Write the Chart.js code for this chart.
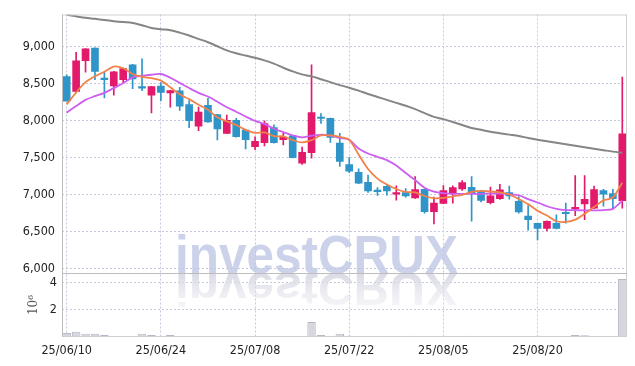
<!DOCTYPE html>
<html><head><meta charset="utf-8">
<style>html,body{margin:0;padding:0;background:#fff;}canvas{display:block}</style>
<script src="https://cdn.jsdelivr.net/npm/chart.js@4.4.1/dist/chart.umd.min.js"></script>
</head><body>
<canvas id="c" width="635" height="366"></canvas>
<script>
const dates = ['25/06/10','25/06/11','25/06/12','25/06/13','25/06/16','25/06/17','25/06/18','25/06/19','25/06/20','25/06/23',
'25/06/24','25/06/25','25/06/26','25/06/27','25/06/30','25/07/01','25/07/02','25/07/03','25/07/04','25/07/07',
'25/07/08','25/07/09','25/07/10','25/07/11','25/07/14','25/07/15','25/07/16','25/07/17','25/07/18','25/07/21',
'25/07/22','25/07/23','25/07/24','25/07/25','25/07/28','25/07/29','25/07/30','25/07/31','25/08/01','25/08/04',
'25/08/05','25/08/06','25/08/07','25/08/08','25/08/11','25/08/12','25/08/13','25/08/14','25/08/18','25/08/19',
'25/08/20','25/08/21','25/08/22','25/08/25','25/08/26','25/08/27','25/08/28','25/08/29','25/09/01','25/09/02'];
const tickLabels = ['25/06/10','25/06/24','25/07/08','25/07/22','25/08/05','25/08/20'];
const priceTicks = [6000,6500,7000,7500,8000,8500,9000];
const volTicks = [2e6,4e6];

const openP  = [8594,8393,8812,8982,8565,8469,8554,8754,8447,8344,8468,8375,8402,8215,7923,8205,8080,7826,8004,7871,
                7647,7701,7906,7741,7795,7424,7567,8035,8031,7696,7406,7299,7165,7058,7112,7005,7027,6955,7071,6768,
                6880,7013,7076,7098,7035,6889,6943,7027,6907,6708,6611,6540,6611,6748,6805,6872,6814,7053,7013,6916];
const highP  = [8620,8924,8975,8985,8652,8665,8710,8760,8835,8465,8513,8410,8451,8269,8181,8300,8085,8076,8031,7875,
                7781,7996,7942,7826,7800,7643,8754,8094,8035,7826,7500,7348,7263,7094,7130,7116,7080,7241,7075,6964,
                7121,7116,7188,7241,7040,7102,7137,7115,6973,6850,6615,6645,6726,6885,7256,7256,7115,7071,7071,8587];
const lowP   = [8263,8385,8656,8554,8308,8344,8509,8433,8406,8103,8265,8183,8138,7905,7862,7975,7737,7826,7775,7616,
                7607,7656,7695,7670,7495,7406,7491,7960,7705,7380,7295,7145,7027,6987,6991,6924,6964,6946,6746,6603,
                6875,6884,7054,6638,6900,6872,6935,6938,6748,6518,6386,6509,6535,6611,6713,6660,6810,6841,6806,6814];
const closeP = [8263,8808,8969,8665,8555,8661,8705,8562,8440,8460,8380,8406,8196,8000,8114,7982,7888,8004,7781,7741,
                7719,7960,7701,7777,7500,7571,8107,8028,7772,7446,7317,7152,7049,7040,7049,7014,6982,7067,6768,6884,
                7054,7094,7161,7013,6920,6982,7062,6982,6766,6660,6540,6638,6540,6740,6815,6934,7066,7004,6943,7822];
const volume = [0.29e6,0.38e6,0.24e6,0.24e6,0.14e6,0.08e6,0.07e6,0.06e6,0.24e6,0.14e6,0.08e6,0.14e6,0.07e6,0.06e6,0.06e6,0.06e6,0.05e6,0.05e6,0.05e6,0.05e6,
                0.05e6,0.07e6,0.06e6,0.05e6,0.08e6,0.08e6,1.1e6,0.14e6,0.1e6,0.24e6,0.1e6,0.07e6,0.06e6,0.05e6,0.05e6,0.05e6,0.08e6,0.1e6,0.08e6,0.07e6,
                0.05e6,0.05e6,0.06e6,0.1e6,0.08e6,0.05e6,0.05e6,0.05e6,0.06e6,0.08e6,0.1e6,0.06e6,0.05e6,0.06e6,0.14e6,0.12e6,0.06e6,0.05e6,0.05e6,4.24e6];
const ma5  = [8219,8380,8520,8600,8660,8730,8708,8630,8590,8575,8540,8450,8355,8290,8215,8145,8045,7990,7940,7875,
              7835,7840,7790,7785,7735,7705,7735,7800,7800,7780,7740,7540,7345,7215,7135,7075,7035,7030,6980,6950,
              6955,6975,6995,7035,7050,7040,7030,7000,6940,6870,6780,6715,6638,6630,6660,6740,6830,6920,6960,7160];
const ma20 = [8107,8196,8280,8330,8375,8440,8505,8585,8605,8620,8630,8580,8510,8440,8375,8325,8255,8180,8120,8055,
              7996,7955,7890,7845,7800,7772,7795,7808,7797,7765,7740,7622,7555,7510,7466,7392,7290,7196,7092,7040,
              7018,7009,7009,7009,7009,7013,7013,7005,6990,6938,6892,6841,6806,6790,6788,6785,6786,6790,6806,6916];
const ma60 = [9431,9410,9390,9376,9360,9345,9332,9320,9290,9252,9235,9222,9190,9150,9105,9060,9005,8950,8910,8880,
              8850,8815,8770,8715,8665,8625,8598,8560,8520,8480,8445,8405,8360,8320,8280,8240,8200,8155,8100,8050,
              8020,7980,7940,7900,7875,7850,7830,7810,7790,7765,7740,7720,7700,7680,7660,7640,7620,7600,7580,7565];
const watermarkText = 'investCRUX';

const upColor = '#e3196b', downColor = '#2f95c8';
const candleColors = closeP.map((c,i)=> c >= openP[i] ? upColor : downColor);
const tickFont = {family:"'DejaVu Sans Condensed','DejaVu Sans',sans-serif", size:12.5};
const gridColor = '#c5c9dc';

const framePlugin = {
  id:'frame',
  afterDatasetsDraw(chart){
    const c = chart.ctx, a = chart.chartArea, y = chart.scales.y;
    c.save();
    c.lineWidth = 1;
    c.strokeStyle = '#cfcfcf';
    c.beginPath();
    c.moveTo(a.left, a.top+0.5); c.lineTo(a.right, a.top+0.5);
    c.moveTo(a.right-0.5, a.top); c.lineTo(a.right-0.5, a.bottom);
    c.moveTo(a.left, a.bottom-0.5); c.lineTo(a.right, a.bottom-0.5);
    c.stroke();
    c.strokeStyle = '#bdbdbd';
    c.beginPath();
    c.moveTo(a.left+0.5, a.top); c.lineTo(a.left+0.5, a.bottom);
    c.moveTo(a.left, Math.round(y.bottom)+0.5); c.lineTo(a.right, Math.round(y.bottom)+0.5);
    c.stroke();
    c.restore();
  }
};
const wmPlugin = {
  id:'wm',
  beforeDatasetsDraw(chart){
    const c = chart.ctx, y = chart.scales.y;
    const base = y.bottom;
    c.save();
    c.font = 'bold 54px "Liberation Sans", Arial, sans-serif';
    const w = c.measureText(watermarkText).width;
    const sx = 283 / w;
    c.translate(316.5, base);
    c.scale(sx, 1);
    c.textAlign = 'center';
    c.textBaseline = 'alphabetic';
    c.fillStyle = 'rgba(190,199,228,0.8)';
    c.fillText(watermarkText, 0, 0);
    c.scale(1, -0.85);
    const g = c.createLinearGradient(0, 0, 0, -42);
    g.addColorStop(0, 'rgba(214,214,226,0.9)');
    g.addColorStop(1, 'rgba(230,230,238,0.35)');
    c.fillStyle = g;
    c.fillText(watermarkText, 0, 0);
    c.restore();
  }
};

new Chart(document.getElementById('c'), {
  data: {
    labels: dates,
    datasets: [
      {type:'line', label:'MA5', data: ma5, yAxisID:'y', borderColor:'#f0834a', borderWidth:1.8, pointRadius:0, tension:0.3, order:0},
      {type:'line', label:'MA20', data: ma20, yAxisID:'y', borderColor:'#cc5ef2', borderWidth:1.8, pointRadius:0, tension:0.3, order:0},
      {type:'line', label:'MA60', data: ma60, yAxisID:'y', borderColor:'#858585', borderWidth:2, pointRadius:0, tension:0.3, order:0},
      {type:'bar', label:'body', data: openP.map((o,i)=>[o, closeP[i]]), yAxisID:'y', backgroundColor:candleColors, barThickness:7, grouped:false, minBarLength:1.5, order:1},
      {type:'bar', label:'wick', data: lowP.map((l,i)=>[l, highP[i]]), yAxisID:'y', backgroundColor:candleColors, barThickness:1, grouped:false, order:2},
      {type:'bar', label:'volume', data: volume, yAxisID:'vol', backgroundColor:'#d6d6de', borderColor:'#b9b9c6', borderWidth:1, barPercentage:0.9, categoryPercentage:1, grouped:false, order:3}
    ]
  },
  options: {
    responsive:false, animation:false, events:[], devicePixelRatio:1,
    layout:{padding:{top:9, right:8, left:0, bottom:0}},
    plugins:{legend:{display:false}, tooltip:{enabled:false}},
    scales:{
      x:{type:'category', offset:true,
        grid:{offset:false, drawTicks:false, color:(ctx)=> tickLabels.includes(dates[ctx.index]) ? gridColor : 'rgba(0,0,0,0)'},
        border:{display:false, dash:[2,2]},
        ticks:{autoSkip:false, maxRotation:0, minRotation:0, padding:6, color:'#222', font:tickFont,
          callback:(v,i)=> tickLabels.includes(dates[i]) ? dates[i] : ''},
        afterFit:(s)=>{ s.height = 29; }
      },
      vol:{type:'linear', position:'left', stack:'p', stackWeight:65, min:0, max:4.68e6,
        grid:{color:gridColor, drawTicks:false}, border:{display:false, dash:[2,2]},
        afterBuildTicks:(s)=>{ s.ticks = volTicks.map(v=>({value:v})); },
        ticks:{autoSkip:false, padding:5, color:'#222', font:tickFont,
          callback:(v)=> String(v/1e6)},
        title:{display:true, text:'10⁶', color:'#555', font:{family:"'DejaVu Serif',serif", size:12}, padding:{top:27,bottom:0}},
        afterFit:(s)=>{ s.width = 62; }
      },
      y:{type:'linear', position:'left', stack:'p', stackWeight:263, min:5937, max:9435,
        grid:{color:gridColor, drawTicks:false}, border:{display:false, dash:[2,2]},
        afterBuildTicks:(s)=>{ s.ticks = priceTicks.map(v=>({value:v})); },
        ticks:{autoSkip:false, padding:7, color:'#222', font:tickFont,
          callback:(v)=> v.toLocaleString('en-US')},
        afterFit:(s)=>{ s.width = 62; }
      }
    }
  },
  plugins:[wmPlugin, framePlugin]
});
</script>
</body></html>
